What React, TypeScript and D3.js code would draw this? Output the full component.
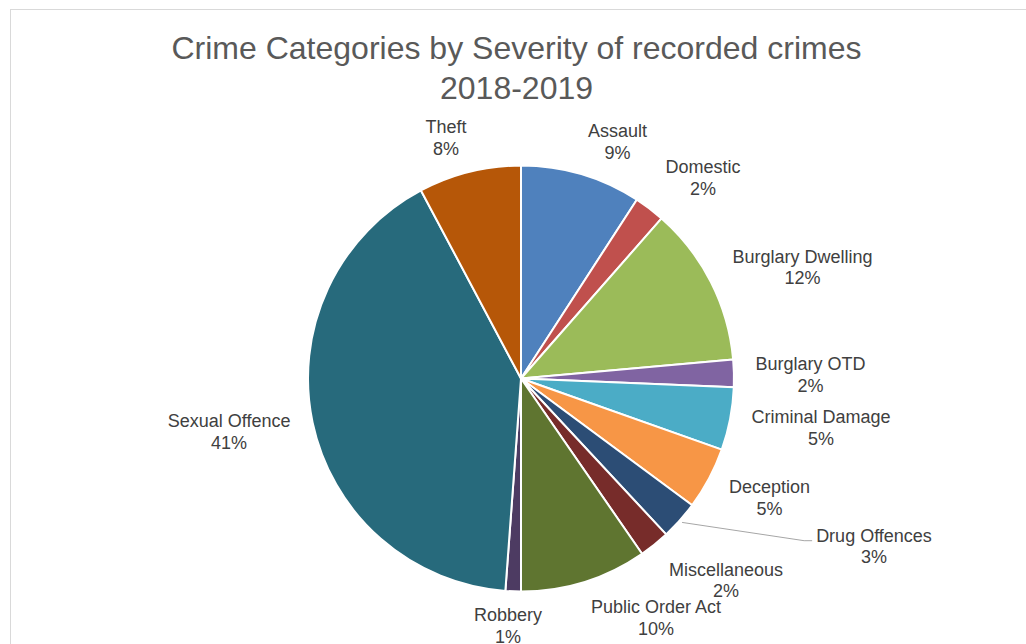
import React, { useMemo } from "react";
import * as d3 from "d3";

// ---- data ----
const categories = [
  "Assault",
  "Domestic",
  "Burglary Dwelling",
  "Burglary OTD",
  "Criminal Damage",
  "Deception",
  "Drug Offences",
  "Miscellaneous",
  "Public Order Act",
  "Robbery",
  "Sexual Offence",
  "Theft",
];
const shares = [9.15, 2.32, 12.1, 2.08, 4.77, 4.72, 2.93, 2.31, 9.62, 1.17, 41.05, 7.78];
const colors = [
  "#4F81BD",
  "#C0504D",
  "#9BBB59",
  "#8064A2",
  "#4BACC6",
  "#F79646",
  "#2C4D75",
  "#772C2A",
  "#5F7530",
  "#4D3B62",
  "#276A7C",
  "#B65708",
];
const titleLines = ["Crime Categories by Severity of recorded crimes", "2018-2019"];
const leaderLabels = ["Drug Offences"];

// ---- layout (label nudges relative to radial anchor) ----
const labelNudges: [number, number][] = [
  [23.4, 10.4],
  [26.3, 4.5],
  [51.5, 5.3],
  [31.6, 2.2],
  [46.7, 0.3],
  [20.7, -1.9],
  [160.6, -4.4],
  [43.4, 0.4],
  [58.2, -7.3],
  [-3.6, -10.8],
  [-39.5, -0.4],
  [-12.6, 9.3],
];

const W = 1026;
const H = 644;
const CX = 521;
const CY = 378.5;
const R = 213;
const LABEL_R = 258;
const FONT = '"Liberation Sans", Arial, sans-serif';

export default function App() {
  const total = d3.sum(shares);
  const arcs = useMemo(
    () => d3.pie<number>().sort(null).value((d) => d)(shares),
    []
  );
  const arcGen = d3.arc<d3.PieArcDatum<number>>().innerRadius(0).outerRadius(R);

  const measure = useMemo(() => {
    const ctx = document.createElement("canvas").getContext("2d");
    return (t: string) => {
      if (!ctx) return t.length * 8.5;
      ctx.font = `18px ${FONT}`;
      return ctx.measureText(t).width;
    };
  }, []);

  return (
    <svg
      width={W}
      height={H}
      style={{ position: "absolute", left: 0, top: 0, display: "block", background: "#fff" }}
      fontFamily={FONT}
    >
      <rect x={10.5} y={9.5} width={1200} height={800} fill="#fff" stroke="#d9d9d9" strokeWidth={1} />
      <g fill="#595959" fontSize={32} textAnchor="middle">
        {titleLines.map((t, i) => (
          <text key={i} x={516.5} y={59 + i * 40}>
            {t}
          </text>
        ))}
      </g>
      <g transform={`translate(${CX},${CY})`}>
        {arcs.map((a, i) => (
          <path key={i} d={arcGen(a) || ""} fill={colors[i]} stroke="#fff" strokeWidth={2} strokeLinejoin="round" />
        ))}
        {arcs.map((a, i) => {
          const mid = (a.startAngle + a.endAngle) / 2;
          const s = Math.sin(mid);
          const c = Math.cos(mid);
          const lx = LABEL_R * s + labelNudges[i][0];
          const ly = -LABEL_R * c + labelNudges[i][1];
          const name = categories[i];
          const pct = Math.round((shares[i] / total) * 100) + "%";
          let leader = null;
          if (leaderLabels.includes(name)) {
            const w = Math.max(measure(name), measure(pct));
            const ex = lx - w / 2 - 4;
            const ey = ly - 5.3;
            const sx = (R + 3) * s;
            const sy = -(R + 3) * c;
            leader = (
              <polyline
                points={`${sx},${sy} ${ex - 8},${ey} ${ex},${ey}`}
                fill="none"
                stroke="#a6a6a6"
                strokeWidth={1}
              />
            );
          }
          return (
            <g key={"l" + i}>
              {leader}
              <text x={lx} y={ly - 4.3} textAnchor="middle" fontSize={18} fill="#404040">
                {name}
              </text>
              <text x={lx} y={ly + 17.3} textAnchor="middle" fontSize={18} fill="#404040">
                {pct}
              </text>
            </g>
          );
        })}
      </g>
    </svg>
  );
}
